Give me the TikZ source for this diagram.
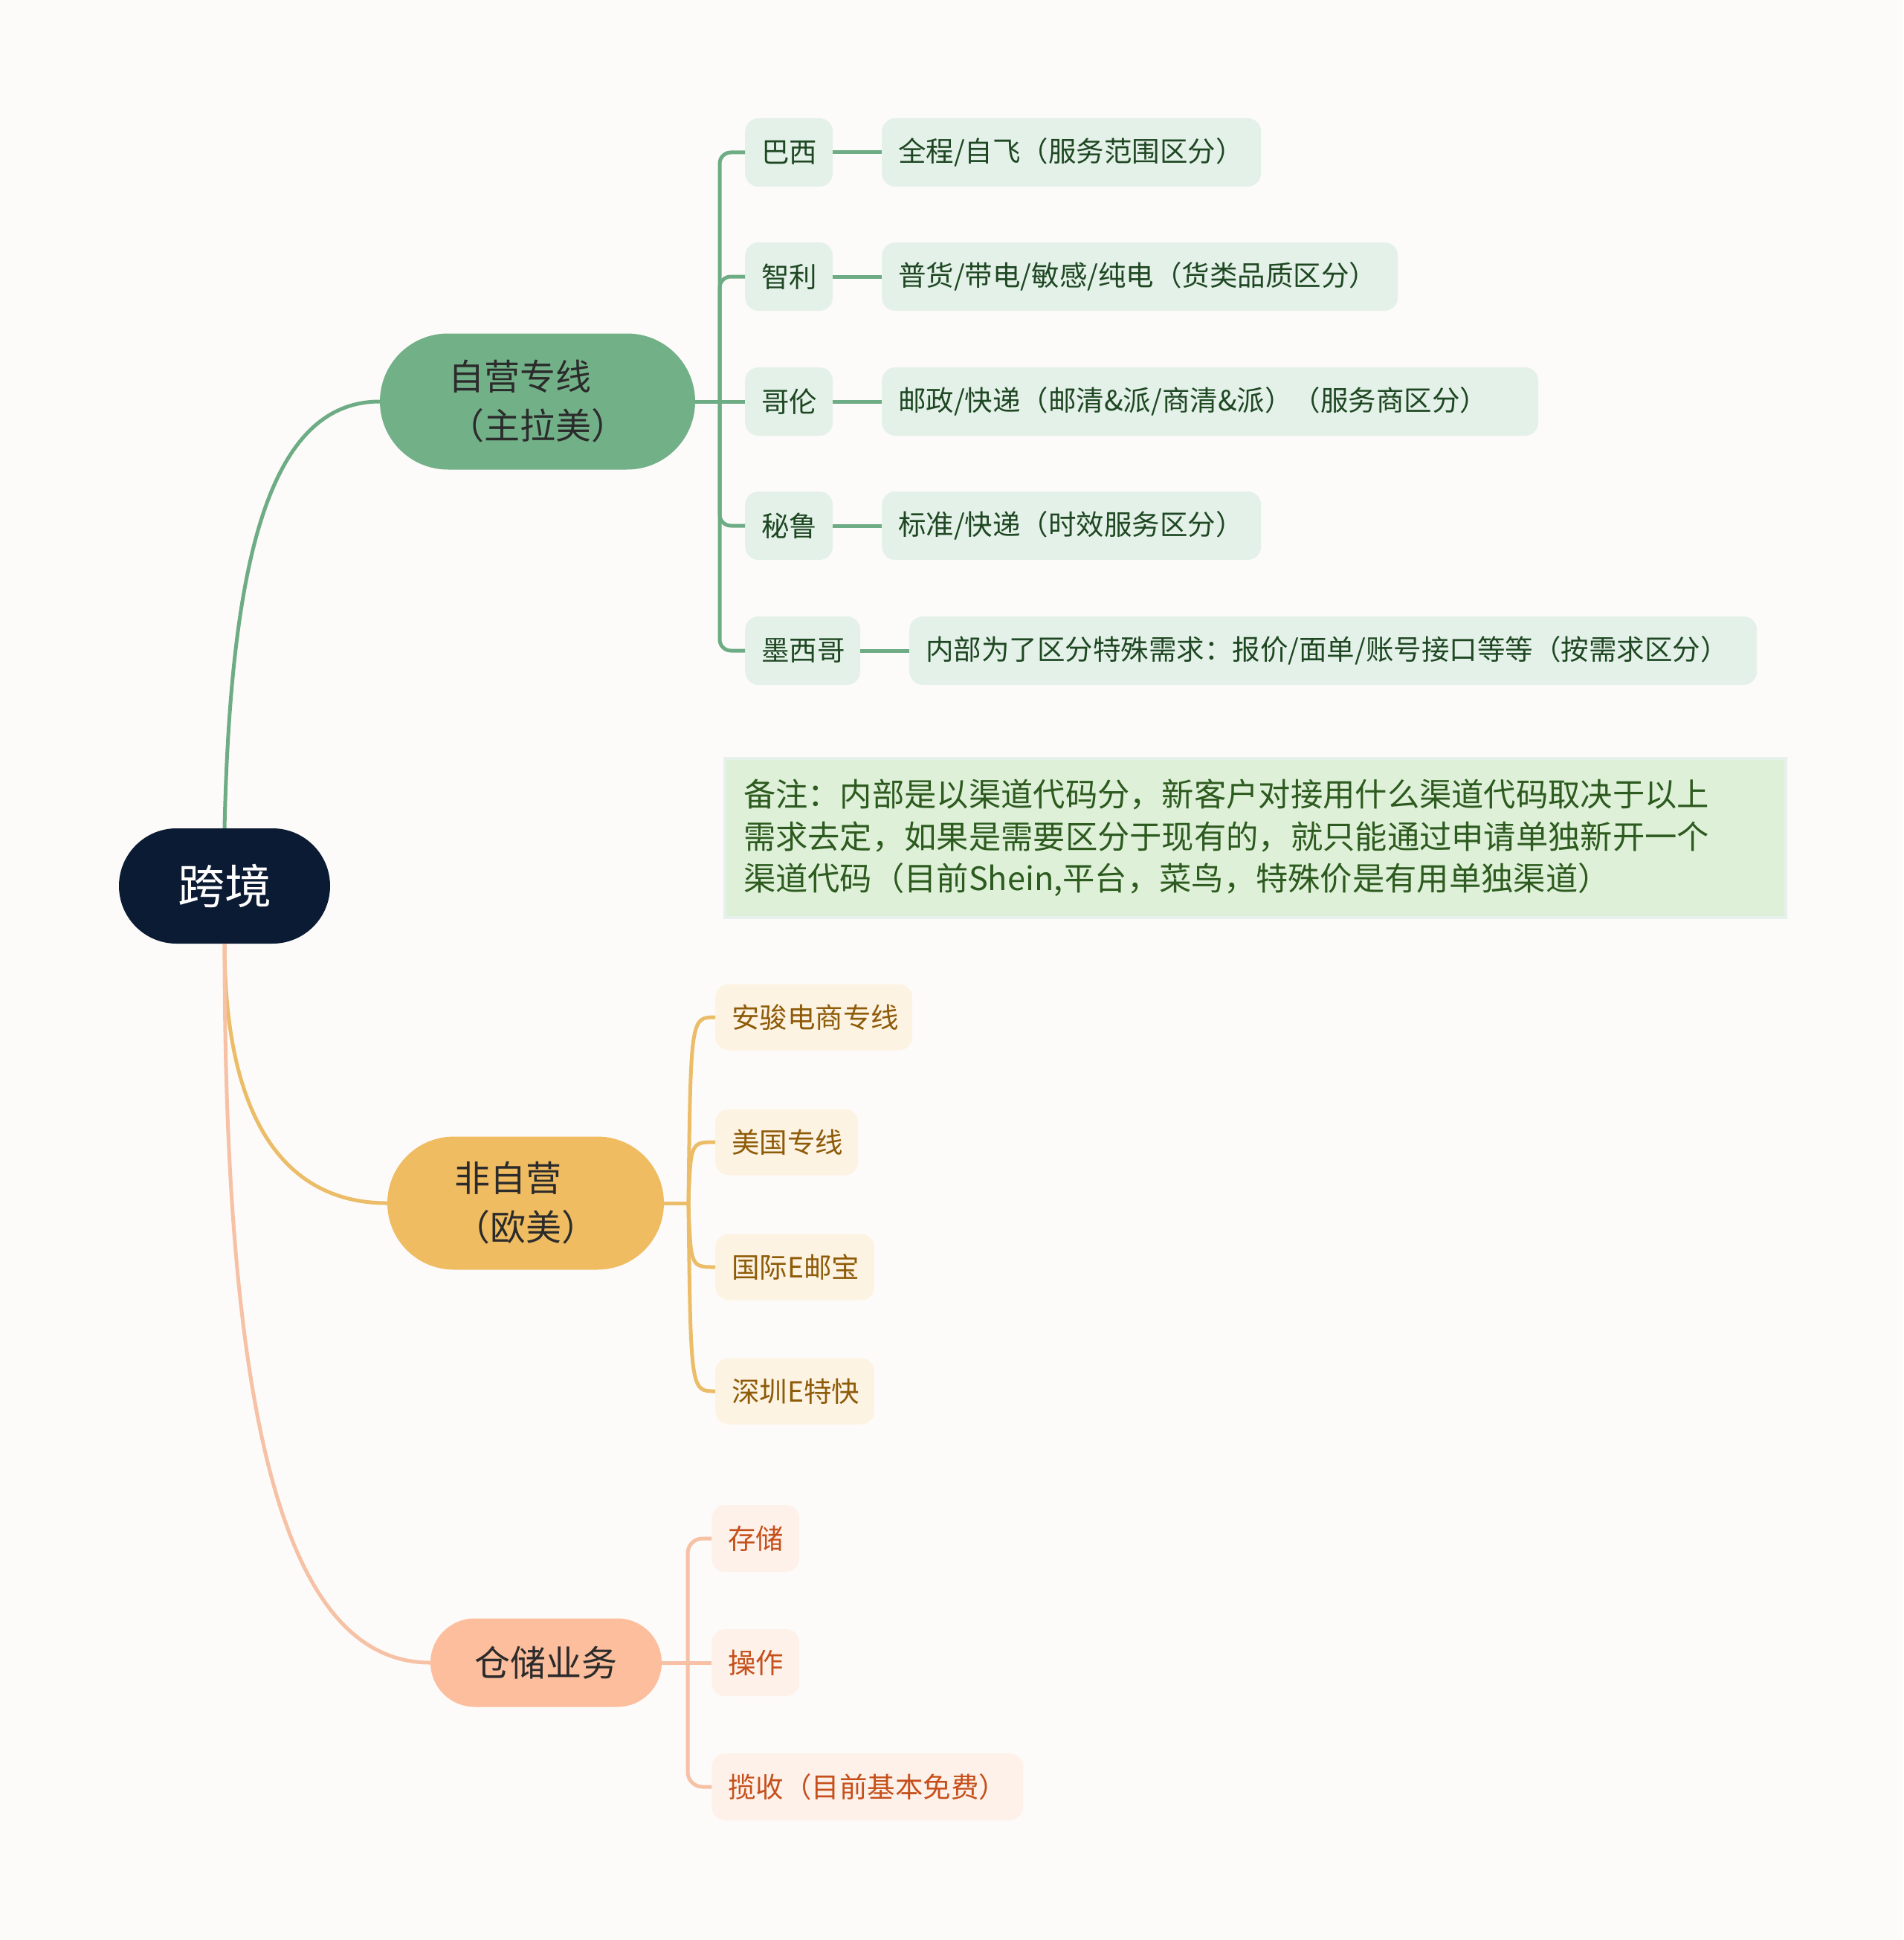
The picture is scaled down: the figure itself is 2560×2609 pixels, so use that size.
\documentclass[tikz,border=0pt]{standalone}
\usepackage{fontspec}
\setmainfont{Noto Sans CJK SC}
\usetikzlibrary{shapes.misc}
\definecolor{bgc}{HTML}{FDFBF9}
\definecolor{rootc}{HTML}{0B1B33}
\definecolor{gnode}{HTML}{72B088}
\definecolor{gline}{HTML}{6DAC84}
\definecolor{gfill}{HTML}{E4F1E9}
\definecolor{gtext}{HTML}{1E4722}
\definecolor{onode}{HTML}{EFBC62}
\definecolor{oline}{HTML}{EBBD69}
\definecolor{ofill}{HTML}{FDF3E3}
\definecolor{otext}{HTML}{8E5B08}
\definecolor{pnode}{HTML}{FCBE9C}
\definecolor{pline}{HTML}{F6C1A5}
\definecolor{pfill}{HTML}{FDF1EA}
\definecolor{ptext}{HTML}{C6501B}
\definecolor{l1text}{HTML}{2B2B2B}
\definecolor{notefill}{HTML}{DEF1D8}
\definecolor{notebd}{HTML}{E6F1EE}
\definecolor{notetext}{HTML}{2D5A1F}
\tikzset{
  rootnode/.style={rounded rectangle, fill=rootc, text=white, minimum width=284pt, minimum height=155pt, inner sep=0pt, font=\fontsize{63}{70}\selectfont},
  lonenode/.style={rounded rectangle, inner sep=0pt, text=l1text, align=center, font=\fontsize{48}{66}\selectfont},
  leaf/.style={anchor=west, rounded corners=18pt, inner xsep=22pt, inner ysep=0pt, align=left, font=\fontsize{37.5}{44}\selectfont},
  gleaf/.style={leaf, fill=gfill, text=gtext, minimum height=92pt},
  oleaf/.style={leaf, fill=ofill, text=otext, minimum height=89pt},
  pleaf/.style={leaf, fill=pfill, text=ptext, minimum height=90pt},
  gconn/.style={draw=gline, line width=5pt},
  oconn/.style={draw=oline, line width=5pt},
  pconn/.style={draw=pline, line width=5pt},
  notebox/.style={anchor=north west, fill=notefill, draw=notebd, line width=4pt, minimum width=1427pt, minimum height=214pt, inner xsep=25pt, text width=1377pt, align=left, text=notetext, font=\fontsize{43.3}{56.5}\selectfont}
}
\begin{document}
\begin{tikzpicture}[x=1pt,y=-1pt]
\fill[bgc] (0,0) rectangle (2560,2609);
\useasboundingbox (0,0) rectangle (2560,2609);

% root and level 1
\node[rootnode] (root) at (302,1191.5) {跨境};
\node[lonenode, fill=gnode, minimum width=424pt, minimum height=183pt] (zy) at (723,540) {自营专线\hspace*{1em}\\（主拉美）};
\node[lonenode, fill=onode, minimum width=372pt, minimum height=179pt] (fzy) at (707,1618) {非自营\hspace*{1em}\\（欧美）};
\node[lonenode, fill=pnode, minimum width=311pt, minimum height=119pt] (ccyw) at (734.5,2236) {仓储业务};

% green leaves
\node[gleaf, text width=74pt] (bx) at (1002,205) {巴西};
\node[gleaf, text width=466pt] (bxd) at (1186,205) {全程/自飞（服务范围区分）};
\node[gleaf, text width=74pt] (zl) at (1002,372) {智利};
\node[gleaf, text width=650pt] (zld) at (1186,372) {普货/带电/敏感/纯电（货类品质区分）};
\node[gleaf, text width=74pt] (gl) at (1002,540) {哥伦};
\node[gleaf, text width=839pt] (gld) at (1186,540) {邮政/快递（邮清\&派/商清\&派）（服务商区分）};
\node[gleaf, text width=74pt] (bl) at (1002,707) {秘鲁};
\node[gleaf, text width=466pt] (bld) at (1186,707) {标准/快递（时效服务区分）};
\node[gleaf, text width=111pt] (mx) at (1002,875) {墨西哥};
\node[gleaf, text width=1096pt] (mxd) at (1223,875) {内部为了区分特殊需求：报价/面单/账号接口等等（按需求区分）};

% note
\node[notebox] (note) at (973,1018) {备注：内部是以渠道代码分，新客户对接用什么渠道代码取决于以上\\需求去定，如果是需要区分于现有的，就只能通过申请单独新开一个\\渠道代码（目前Shein,平台，菜鸟，特殊价是有用单独渠道）};

% orange leaves
\node[oleaf, text width=221pt] (aj) at (962,1368) {安骏电商专线};
\node[oleaf, text width=148pt] (mg) at (962,1536) {美国专线};
\node[oleaf, text width=170pt] (gjey) at (962,1704) {国际E邮宝};
\node[oleaf, text width=170pt] (szet) at (962,1871) {深圳E特快};

% peach leaves
\node[pleaf, text width=74pt] (cc) at (957,2069) {存储};
\node[pleaf, text width=74pt] (cz) at (957,2236) {操作};
\node[pleaf, text width=375pt] (ls) at (957,2403) {揽收（目前基本免费）};

% root connectors
\draw[gconn] (root.north) .. controls (310,760) and (360,540) .. (zy.west);
\draw[oconn] (root.south) .. controls (302,1500) and (380,1618) .. (fzy.west);
\draw[pconn] (root.south) .. controls (302,1900) and (380,2236) .. (ccyw.west);

% green tree
\draw[gconn] (zy.east) -- (968,540) coordinate (gj);
\draw[gconn, rounded corners=15pt] (gj) |- (bx.west);
\draw[gconn, rounded corners=15pt] (gj) |- (zl.west);
\draw[gconn] (gj) -- (gl.west);
\draw[gconn, rounded corners=15pt] (gj) |- (bl.west);
\draw[gconn, rounded corners=15pt] (gj) |- (mx.west);
\draw[gconn] (bx.east) -- (bxd.west);
\draw[gconn] (zl.east) -- (zld.west);
\draw[gconn] (gl.east) -- (gld.west);
\draw[gconn] (bl.east) -- (bld.west);
\draw[gconn] (mx.east) -- (mxd.west);

% orange tree
\draw[oconn] (fzy.east) -- (926,1618) coordinate (oj);
\draw[oconn] (oj) .. controls (929,1368) .. (aj.west);
\draw[oconn] (oj) .. controls (929,1536) .. (mg.west);
\draw[oconn] (oj) .. controls (929,1704) .. (gjey.west);
\draw[oconn] (oj) .. controls (929,1871) .. (szet.west);

% peach tree
\draw[pconn] (ccyw.east) -- (925,2236) coordinate (pj);
\draw[pconn, rounded corners=20pt] (pj) |- (cc.west);
\draw[pconn] (pj) -- (cz.west);
\draw[pconn, rounded corners=20pt] (pj) |- (ls.west);
\end{tikzpicture}
\end{document}
